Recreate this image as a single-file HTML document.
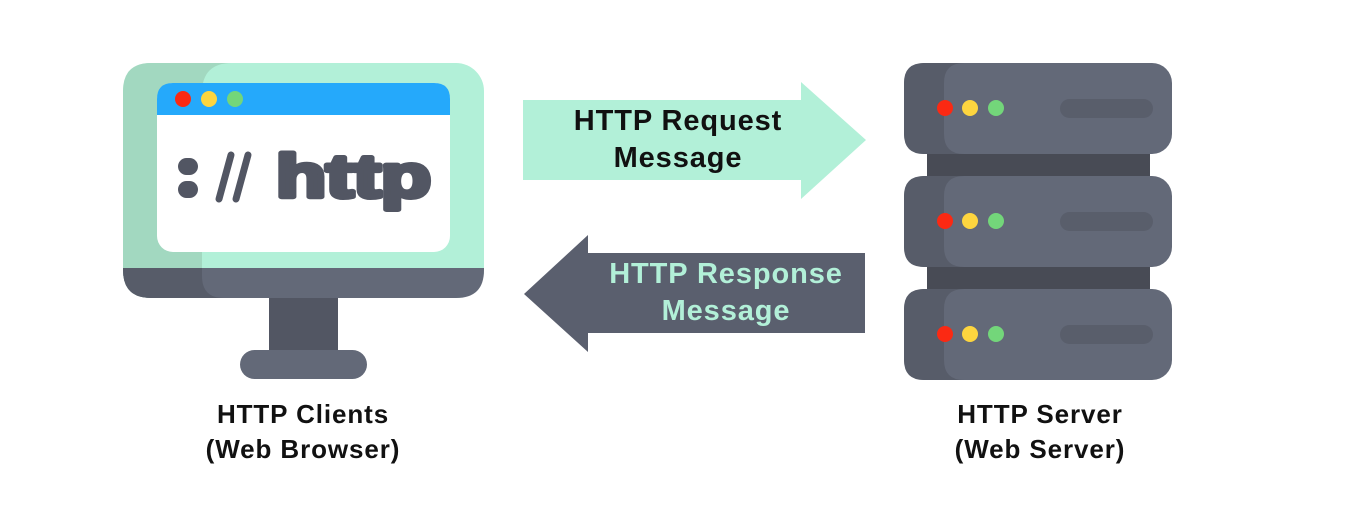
<!DOCTYPE html>
<html><head><meta charset="utf-8"><style>
html,body{margin:0;padding:0;background:#fff;}
svg{display:block}
text{font-family:"Liberation Sans",sans-serif;font-weight:bold;}
</style></head><body>
<svg width="1357" height="529" viewBox="0 0 1357 529" xmlns="http://www.w3.org/2000/svg">
<!-- Monitor -->
<rect x="123" y="63" width="361" height="235" rx="28" fill="#b2f0d8"/>
<path d="M151 63 H232 Q202 63 202 93 V298 H151 Q123 298 123 270 V91 Q123 63 151 63Z" fill="#a2d8c0"/>
<path d="M123 268 H484 V270 Q484 298 456 298 H151 Q123 298 123 270Z" fill="#636978"/>
<path d="M123 268 H202 V276 Q202 298 224 298 H151 Q123 298 123 270Z" fill="#575c69"/>
<rect x="157" y="83" width="293" height="169" rx="16" fill="#ffffff"/>
<path d="M173 83 H434 Q450 83 450 99 V115 H157 V99 Q157 83 173 83Z" fill="#25a9fb"/>
<circle cx="183" cy="99" r="8" fill="#fb2913"/>
<circle cx="209" cy="99" r="8" fill="#fdd53f"/>
<circle cx="235" cy="99" r="8" fill="#73d67a"/>
<rect x="178" y="158" width="20" height="17" rx="8.5" fill="#525663"/>
<rect x="178" y="181" width="20" height="17" rx="8.5" fill="#525663"/>
<line x1="231" y1="155" x2="219" y2="199" stroke="#525663" stroke-width="7" stroke-linecap="round"/>
<line x1="248" y1="155" x2="236" y2="199" stroke="#525663" stroke-width="7" stroke-linecap="round"/>
<text x="276" y="197" font-size="60" fill="#525663" stroke="#525663" stroke-width="5" stroke-linejoin="round" textLength="155" lengthAdjust="spacingAndGlyphs">http</text>
<rect x="269" y="298" width="69" height="54" fill="#525663"/>
<rect x="240" y="350" width="127" height="29" rx="14.5" fill="#636978"/>
<!-- Server -->
<rect x="927" y="150" width="223" height="30" fill="#484b55"/>
<rect x="927" y="263" width="223" height="30" fill="#484b55"/>
<g id="u">
<rect x="904" y="63" width="268" height="91" rx="20" fill="#636978"/>
<path d="M924 63 H964 Q944 63 944 83 V134 Q944 154 964 154 H924 Q904 154 904 134 V83 Q904 63 924 63Z" fill="#575c69"/>
<circle cx="945" cy="108" r="8" fill="#fb2913"/>
<circle cx="970" cy="108" r="8" fill="#fdd53f"/>
<circle cx="996" cy="108" r="8" fill="#73d67a"/>
<rect x="1060" y="99" width="93" height="19" rx="9.5" fill="#595e6b"/>
</g>
<use href="#u" y="113"/>
<use href="#u" y="226"/>
<!-- Arrows -->
<polygon points="523,100 801,100 801,82 866,140 801,199 801,180 523,180" fill="#b2f0d8"/>
<polygon points="865,253 588,253 588,235 524,294 588,352 588,333 865,333" fill="#5a5f6e"/>
<text x="678" y="130" font-size="29" letter-spacing="0.9" text-anchor="middle" fill="#111">HTTP Request</text>
<text x="678" y="167" font-size="29" letter-spacing="0.9" text-anchor="middle" fill="#111">Message</text>
<text x="726" y="283" font-size="29" letter-spacing="0.9" text-anchor="middle" fill="#b2f0d8">HTTP Response</text>
<text x="726" y="320" font-size="29" letter-spacing="0.9" text-anchor="middle" fill="#b2f0d8">Message</text>
<!-- Labels -->
<text x="303" y="423" font-size="26" letter-spacing="0.9" text-anchor="middle" fill="#111">HTTP Clients</text>
<text x="303" y="458" font-size="26" letter-spacing="0.9" text-anchor="middle" fill="#111">(Web Browser)</text>
<text x="1040" y="423" font-size="26" letter-spacing="0.9" text-anchor="middle" fill="#111">HTTP Server</text>
<text x="1040" y="458" font-size="26" letter-spacing="0.9" text-anchor="middle" fill="#111">(Web Server)</text>
</svg>
</body></html>
